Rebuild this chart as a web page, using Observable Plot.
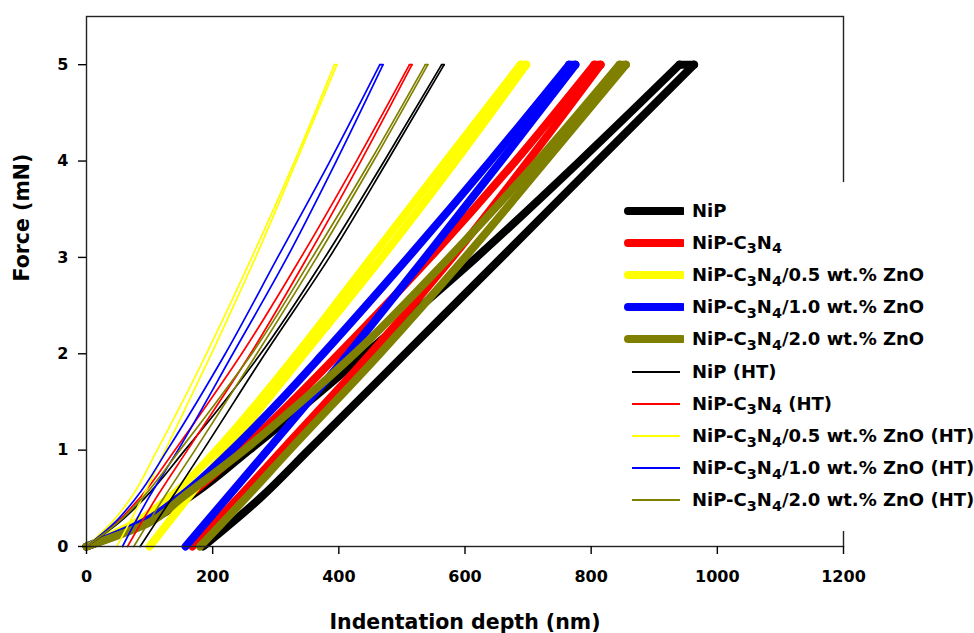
<!DOCTYPE html>
<html><head><meta charset="utf-8">
<script src="https://cdn.jsdelivr.net/npm/d3@7"></script>
<script src="https://cdn.jsdelivr.net/npm/@observablehq/plot@0.6"></script>
<style>
body{margin:0;background:#fff;}
#wrap{position:relative;width:974px;height:633px;font-family:"DejaVu Sans",sans-serif;}
#legend{position:absolute;left:612px;top:182px;width:362px;height:349px;background:#fff;box-sizing:border-box;padding-top:12.6px;padding-left:12px;}
.row{display:flex;align-items:center;height:32.2px;}
.row svg{width:60px;height:20px;flex:none;}
.row span{margin-left:8px;font-weight:bold;font-size:18px;white-space:nowrap;line-height:20px;color:#000;}
.row sub{font-size:0.8em;position:relative;top:0.32em;vertical-align:baseline;line-height:0;}
</style></head>
<body><div id="wrap"><div id="legend"></div></div>
<script>
// ---- data ----
const seriesNames = [
  "NiP", "NiP-C3N4", "NiP-C3N4/0.5 wt.% ZnO", "NiP-C3N4/1.0 wt.% ZnO", "NiP-C3N4/2.0 wt.% ZnO",
  "NiP (HT)", "NiP-C3N4 (HT)", "NiP-C3N4/0.5 wt.% ZnO (HT)", "NiP-C3N4/1.0 wt.% ZnO (HT)", "NiP-C3N4/2.0 wt.% ZnO (HT)"
];
const seriesColors = ["#000000", "#ff0000", "#ffff00", "#0000ff", "#808000",
                      "#000000", "#ff0000", "#ffff00", "#0000ff", "#808000"];
const heatTreated = [false, false, false, false, false, true, true, true, true, true];

// force levels (mN)
const loadForce = [0, 0.25, 0.5, 1, 1.5, 2, 3, 4, 5];
const unloadForce = [5, 4, 3, 2, 1, 0.5, 0];

// indentation depth (nm), as-deposited coatings
const nipLoad     = [0, 95, 160, 258, 352, 442, 618, 782, 940];
const nipUnload   = [963, 810, 658, 505, 352, 275, 185];
const cnLoad      = [0, 95, 155, 245, 325, 400, 545, 680, 805];
const cnUnload    = [815, 700, 580, 450, 310, 240, 168];
const zn05Load    = [0, 78, 130, 206, 272, 334, 452, 570, 688];
const zn05Unload  = [697, 585, 468, 345, 222, 160, 100];
const zn10Load    = [0, 90, 145, 230, 305, 375, 510, 640, 765];
const zn10Unload  = [775, 657, 537, 415, 287, 222, 157];
const zn20Load    = [0, 100, 150, 250, 340, 425, 575, 715, 845];
const zn20Unload  = [855, 728, 600, 465, 322, 252, 180];
// heat-treated coatings
const nipHtLoad    = [0, 52, 92, 156, 218, 276, 378, 472, 563];
const nipHtUnload  = [567, 477, 385, 283, 185, 135, 85];
const cnHtLoad     = [0, 48, 84, 140, 194, 246, 340, 428, 512];
const cnHtUnload   = [516, 435, 350, 260, 160, 110, 65];
const zn05HtLoad   = [0, 40, 70, 112, 152, 190, 262, 330, 393];
const zn05HtUnload = [397, 333, 268, 198, 125, 88, 48];
const zn10HtLoad   = [0, 45, 78, 128, 175, 220, 303, 386, 465];
const zn10HtUnload = [470, 396, 318, 232, 145, 98, 57];
const zn20HtLoad   = [0, 50, 88, 148, 206, 262, 358, 450, 537];
const zn20HtUnload = [541, 455, 365, 270, 172, 122, 75];

const xTicks = [0, 200, 400, 600, 800, 1000, 1200];
const yTicks = [0, 1, 2, 3, 4, 5];

// ---- build table ----
const loads = [nipLoad, cnLoad, zn05Load, zn10Load, zn20Load, nipHtLoad, cnHtLoad, zn05HtLoad, zn10HtLoad, zn20HtLoad];
const unloads = [nipUnload, cnUnload, zn05Unload, zn10Unload, zn20Unload, nipHtUnload, cnHtUnload, zn05HtUnload, zn10HtUnload, zn20HtUnload];
const rows = [];
seriesNames.forEach((name, i) => {
  const base = {name, color: seriesColors[i], ht: heatTreated[i]};
  const L = loads[i], U = unloads[i];
  loadForce.forEach((f, j) => rows.push({...base, part: "load", h: L[j], f}));
  rows.push({...base, part: "hold", h: L[L.length - 1], f: loadForce[loadForce.length - 1]});
  rows.push({...base, part: "hold", h: U[0], f: unloadForce[0]});
  unloadForce.forEach((f, j) => rows.push({...base, part: "unload", h: U[j], f}));
});

const font = {fontFamily: "DejaVu Sans", fontWeight: "bold"};
const chart = Plot.plot({
  width: 974, height: 633,
  marginLeft: 86, marginRight: 131, marginTop: 16, marginBottom: 87,
  x: {domain: [0, 1200]},
  y: {domain: [0, 5.5]},
  color: {type: "identity"},
  style: {fontFamily: "DejaVu Sans", fontWeight: "bold", fontSize: "16px", color: "#000", background: "#fff"},
  marks: [
    Plot.line(rows.filter(d => !d.ht), {x: "h", y: "f", z: d => d.name + d.part, stroke: "color",
      strokeWidth: 8, strokeLinecap: "round", strokeLinejoin: "round", curve: "monotone-y"}),
    Plot.line(rows.filter(d => d.ht), {x: "h", y: "f", z: d => d.name + d.part, stroke: "color",
      strokeWidth: 1.7, strokeLinecap: "round", strokeLinejoin: "round", curve: "monotone-y"}),
    Plot.frame({stroke: "#222", strokeWidth: 1.4}),
    Plot.axisX({ticks: xTicks, tickSize: 8, tickPadding: 16, tickFormat: d => String(d), label: null,
      strokeWidth: 1.4, fontSize: 16, ...font}),
    Plot.axisY({ticks: yTicks, tickSize: 8, tickPadding: 10, tickFormat: d => String(d), label: null,
      strokeWidth: 1.4, fontSize: 16, ...font}),
    Plot.text(["Force (mN)"], {frameAnchor: "left", dx: -58, rotate: -90, lineAnchor: "bottom",
      fontSize: 20.5, ...font}),
    Plot.text(["Indentation depth (nm)"], {frameAnchor: "bottom", dy: 82, lineAnchor: "bottom",
      fontSize: 20.5, ...font})
  ]
});
const wrap = document.getElementById("wrap");
wrap.insertBefore(chart, wrap.firstChild);

// ---- legend ----
const legend = document.getElementById("legend");
seriesNames.forEach((name, i) => {
  const row = document.createElement("div");
  row.className = "row";
  const thick = !heatTreated[i];
  row.innerHTML =
    `<svg viewBox="0 0 60 20"><line x1="${thick ? 4 : 8}" x2="${thick ? 58 : 56}" y1="10" y2="10" stroke="${seriesColors[i]}" stroke-width="${thick ? 8 : 1.8}" stroke-linecap="${thick ? "round" : "butt"}"/></svg>` +
    `<span>${name.replace("C3N4", "C<sub>3</sub>N<sub>4</sub>")}</span>`;
  legend.appendChild(row);
});
</script>
</body></html>
